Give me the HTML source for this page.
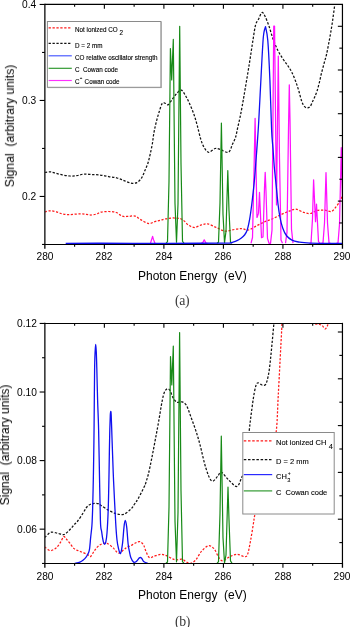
<!DOCTYPE html><html><head><meta charset="utf-8"><style>
*{margin:0;padding:0}
html,body{width:350px;height:627px;background:#fff;overflow:hidden}
body{position:relative;font-family:"Liberation Sans",sans-serif;color:#000}
.t{position:absolute;white-space:nowrap;line-height:1;will-change:transform}
.tk{font-size:10.2px}
.ttl{font-size:12px}
.la{font-size:6.3px;-webkit-text-stroke:0.12px #000}
.lb{font-size:7.5px;-webkit-text-stroke:0.1px #000}
.cap{font-family:"Liberation Serif",serif;font-size:13.8px;color:#3a3a3a;letter-spacing:-0.35px}
</style></head><body><svg width="350" height="627" viewBox="0 0 350 627" style="position:absolute;left:0;top:0"><defs><clipPath id="ca"><rect x="44.6" y="4" width="297.4" height="240"/></clipPath><clipPath id="cb"><rect x="44.6" y="323.8" width="297.4" height="240.1"/></clipPath></defs><g clip-path="url(#ca)" fill="none" stroke-linejoin="round"><path d="M44.8 211.8 C45.72 211.63 48.38 210.8 50.3 210.8 C52.22 210.8 54.3 211.28 56.3 211.8 C58.3 212.32 60.3 213.42 62.3 213.9 C64.3 214.38 66.3 214.65 68.3 214.7 C70.3 214.75 72.17 214.33 74.3 214.2 C76.43 214.07 79.1 213.87 81.1 213.9 C83.1 213.93 84.58 214.22 86.3 214.4 C88.02 214.58 89.68 215.07 91.4 215 C93.12 214.93 95.02 214.48 96.6 214 C98.18 213.52 98.9 212.52 100.9 212.1 C102.9 211.68 106.03 211.43 108.6 211.5 C111.17 211.57 114.02 211.72 116.3 212.5 C118.58 213.28 120.3 215.55 122.3 216.2 C124.3 216.85 126.17 216.42 128.3 216.4 C130.43 216.38 132.97 215.52 135.1 216.1 C137.23 216.68 138.8 218.65 141.1 219.9 C143.4 221.15 146.6 223.32 148.9 223.6 C151.2 223.88 153.05 222.13 154.9 221.6 C156.75 221.07 158.25 220.85 160 220.4 C161.75 219.95 163.35 219.3 165.4 218.9 C167.45 218.5 169.87 218.05 172.3 218 C174.73 217.95 178 218.08 180 218.6 C182 219.12 182.87 220 184.3 221.1 C185.73 222.2 186.88 224.13 188.6 225.2 C190.32 226.27 192.47 227.55 194.6 227.5 C196.73 227.45 199.18 225.5 201.4 224.9 C203.62 224.3 205.35 223.43 207.9 223.9 C210.45 224.37 213.78 226.48 216.7 227.7 C219.62 228.92 222.48 230.9 225.4 231.2 C228.32 231.5 231.42 229.93 234.2 229.5 C236.98 229.07 239.75 228.52 242.1 228.6 C244.45 228.68 245.88 230.47 248.3 230 C250.72 229.53 253.83 227.18 256.6 225.8 C259.37 224.42 262.13 222.92 264.9 221.7 C267.67 220.48 270.43 219.72 273.2 218.5 C275.97 217.28 278.73 215.67 281.5 214.4 C284.27 213.13 287.38 211.77 289.8 210.9 C292.22 210.03 293.68 208.95 296 209.2 C298.32 209.45 301.3 211.68 303.7 212.4 C306.1 213.12 308.17 213.82 310.4 213.5 C312.63 213.18 314.72 211.07 317.1 210.5 C319.48 209.93 322.32 209.95 324.7 210.1 C327.08 210.25 329.48 211.98 331.4 211.4 C333.32 210.82 334.75 208.35 336.2 206.6 C337.65 204.85 339.13 202.58 340.1 200.9 C341.07 199.22 341.68 197.23 342 196.5" stroke="#ff1a1a" stroke-width="1.25" stroke-dasharray="2.2 1.6"/><path d="M44.8 172.5 C45.72 172.4 48.53 171.8 50.3 171.9 C52.07 172 53.4 172.6 55.4 173.1 C57.4 173.6 59.87 174.42 62.3 174.9 C64.73 175.38 67.57 175.88 70 176 C72.43 176.12 74.62 175.92 76.9 175.6 C79.18 175.28 81.28 174.28 83.7 174.1 C86.12 173.92 88.68 174.35 91.4 174.5 C94.12 174.65 97.13 174.65 100 175 C102.87 175.35 105.75 176.1 108.6 176.6 C111.45 177.1 114.53 177.33 117.1 178 C119.67 178.67 121.7 179.75 124 180.6 C126.3 181.45 128.75 182.77 130.9 183.1 C133.05 183.43 135.08 183.52 136.9 182.6 C138.72 181.68 140.48 179.57 141.8 177.6 C143.12 175.63 143.78 173.2 144.8 170.8 C145.82 168.4 147 165.98 147.9 163.2 C148.8 160.42 149.45 157.38 150.2 154.1 C150.95 150.82 151.78 147.03 152.4 143.5 C153.02 139.97 153.27 136.43 153.9 132.9 C154.53 129.37 155.32 125.83 156.2 122.3 C157.08 118.77 158.18 114.87 159.2 111.7 C160.22 108.53 161.28 104.7 162.3 103.3 C163.32 101.9 164.3 103.08 165.3 103.3 C166.3 103.52 167.13 105.28 168.3 104.6 C169.47 103.92 170.9 101.03 172.3 99.2 C173.7 97.37 175.2 95.1 176.7 93.6 C178.2 92.1 179.8 89.8 181.3 90.2 C182.8 90.6 184.33 93.78 185.7 96 C187.07 98.22 188.13 100.45 189.5 103.5 C190.87 106.55 192.6 110.6 193.9 114.3 C195.2 118 196.17 121.58 197.3 125.7 C198.43 129.82 199.57 135.38 200.7 139 C201.83 142.62 202.77 145.18 204.1 147.4 C205.43 149.62 206.87 152.12 208.7 152.3 C210.53 152.48 213.18 148.97 215.1 148.5 C217.02 148.03 217.97 148.87 220.2 149.5 C222.43 150.13 226.48 153.12 228.5 152.3 C230.52 151.48 231.13 147.07 232.3 144.6 C233.47 142.13 234.62 140.25 235.5 137.5 C236.38 134.75 236.85 131.43 237.6 128.1 C238.35 124.77 239.28 120.9 240 117.5 C240.72 114.1 241.23 111.33 241.9 107.7 C242.57 104.07 242.82 102.68 244 95.7 C245.18 88.72 247.5 75.1 249 65.8 C250.5 56.5 251.9 46.72 253 39.9 C254.1 33.08 254.62 28.47 255.6 24.9 C256.58 21.33 257.85 20.57 258.9 18.5 C259.95 16.43 260.9 12.92 261.9 12.5 C262.9 12.08 263.73 13.77 264.9 16 C266.07 18.23 267.57 22.15 268.9 25.9 C270.23 29.65 271.4 34.4 272.9 38.5 C274.4 42.6 276.23 47.12 277.9 50.5 C279.57 53.88 281.25 56.27 282.9 58.8 C284.55 61.33 286.33 63.48 287.8 65.7 C289.27 67.92 290.42 69.55 291.7 72.1 C292.98 74.65 294.33 77.93 295.5 81 C296.67 84.07 297.65 87.08 298.7 90.5 C299.75 93.92 300.85 98.87 301.8 101.5 C302.75 104.13 303.47 105.22 304.4 106.3 C305.33 107.38 306.42 108 307.4 108 C308.38 108 309.43 107.38 310.3 106.3 C311.17 105.22 311.83 103.12 312.6 101.5 C313.37 99.88 314.15 98.37 314.9 96.6 C315.65 94.83 316.35 93.28 317.1 90.9 C317.85 88.52 318.68 85.2 319.4 82.3 C320.12 79.4 320.62 76.67 321.4 73.5 C322.18 70.33 323.27 66.38 324.1 63.3 C324.93 60.22 325.67 58.12 326.4 55 C327.13 51.88 327.8 48.23 328.5 44.6 C329.2 40.97 329.92 37.18 330.6 33.2 C331.28 29.22 331.95 25.12 332.6 20.7 C333.25 16.28 334.1 9.38 334.5 6.7 C334.9 4.02 334.92 4.95 335 4.6" stroke="#111" stroke-width="1.25" stroke-dasharray="2.4 1.6"/><path d="M166 243.35 L167.5 241.61 L169 181.43 L170.4 48.55 L171.7 79.95 L173.3 39.45 L175 203.48 L176.5 242.16 L178 203.99 L179.7 26.35 L181 163.39 L182.5 241.24 L184 243.35 M217 243.35 L218.5 242.21 L220 202.74 L221.4 123.05 L223 214.22 L224.5 242.59 L226 231.26 L227.8 170.55 L229 210.57 L230.5 242.07 L232 243.35 " stroke="#178a17" stroke-width="1.2"/><path d="M150.5 243.13 L152.6 236.35 L153.5 239.63 L155 243.27 M201.5 243.34 L203 242.21 L204.2 239.85 L206 243.07 L207.5 243.35 M251 243.29 L252.5 237.52 L254 171.14 L255.1 118.35 L257 217.44 L258.5 213.39 L259.5 192.35 L261.5 237.72 L263 236.98 L264.5 187.78 L265.2 172.35 L266 191.79 L267.5 238.31 L269 243.3 L270.5 243.31 L272 230.14 L273.75 26.05 L274.55 26.05 L276.5 204.94 L278.3 56.05 L279.5 159.01 L281 240.05 L282.5 243.34 M285.5 243.23 L287 232.1 L288.5 128.26 L289.3 84.85 L290 119.29 L291.5 229.26 L293 243.18 M309.5 243.35 L311 243.03 L312.5 218.7 L313.6 179.85 L315.5 221.66 L316.5 204.15 L318.5 241.63 L320 243.35 L321.5 243.35 L323 242.87 L324.5 223 L326 172.55 L327.5 223 L329 242.87 L330.5 243.35 M336.5 243.35 L338 242.94 L339.5 224.39 L341.3 147.55 L342.5 196.72 " stroke="#ff10ff" stroke-width="1.25"/><path d="M65.7 243.3 C71.42 243.29 85.95 243.25 100 243.25 C114.05 243.25 133.33 243.3 150 243.3 C166.67 243.3 187.5 243.28 200 243.25 C212.5 243.22 220 243.14 225 243.1 C230 243.06 228.67 243.15 230 243 C231.33 242.85 231.83 242.6 233 242.2 C234.17 241.8 235.67 241.27 237 240.6 C238.33 239.93 239.75 239.13 241 238.2 C242.25 237.27 243.47 236.37 244.5 235 C245.53 233.63 246.33 232.68 247.2 230 C248.07 227.32 248.95 223.1 249.7 218.9 C250.45 214.7 251.12 209.27 251.7 204.8 C252.28 200.33 252.73 196.35 253.2 192.1 C253.67 187.85 254.12 183.55 254.5 179.3 C254.88 175.05 255.12 171.48 255.5 166.6 C255.88 161.72 256.27 157.43 256.8 150 C257.33 142.57 258.02 133.72 258.7 122 C259.38 110.28 260.13 93.78 260.9 79.7 C261.67 65.62 262.53 46.35 263.3 37.5 C264.07 28.65 265.13 28.42 265.5 26.6 C265.88 28.92 267.07 31.6 267.8 40.5 C268.53 49.4 269.27 65.08 269.9 80 C270.53 94.92 271.08 118.58 271.6 130 C272.12 141.42 272.55 142.33 273 148.5 C273.45 154.67 273.77 160.83 274.3 167 C274.83 173.17 275.58 179.33 276.2 185.5 C276.82 191.67 277.38 198.75 278 204 C278.62 209.25 279.12 213 279.9 217 C280.68 221 281.62 224.92 282.7 228 C283.78 231.08 284.87 233.48 286.4 235.5 C287.93 237.52 289.9 239.02 291.9 240.1 C293.9 241.18 295.38 241.5 298.4 242 C301.42 242.5 302.73 242.88 310 243.1 C317.27 243.32 336.67 243.27 342 243.3" stroke="#1010f0" stroke-width="1.3"/></g><g clip-path="url(#cb)" fill="none" stroke-linejoin="round"><path d="M44.8 546.9 C45.28 547.32 46.65 548.78 47.7 549.4 C48.75 550.02 49.67 550.88 51.1 550.6 C52.53 550.32 54.72 549.1 56.3 547.7 C57.88 546.3 59.38 544.05 60.6 542.2 C61.82 540.35 62.7 537.2 63.6 536.6 C64.5 536 65 537.55 66 538.6 C67 539.65 68.25 541.23 69.6 542.9 C70.95 544.57 72.58 547.27 74.1 548.6 C75.62 549.93 77.17 550.23 78.7 550.9 C80.23 551.57 81.77 551.93 83.3 552.6 C84.83 553.27 86.67 554.27 87.9 554.9 C89.13 555.53 89.75 556.88 90.7 556.4 C91.65 555.92 92.55 553.5 93.6 552 C94.65 550.5 95.67 548.73 97 547.4 C98.33 546.07 99.93 544.68 101.6 544 C103.27 543.32 105.07 542.65 107 543.3 C108.93 543.95 111.3 546.27 113.2 547.9 C115.1 549.53 116.67 552.75 118.4 553.1 C120.13 553.45 122.27 550.92 123.6 550 C124.93 549.08 125.22 548.32 126.4 547.6 C127.58 546.88 129.1 546.52 130.7 545.7 C132.3 544.88 134.45 543.37 136 542.7 C137.55 542.03 138.73 541.32 140 541.7 C141.27 542.08 142.65 543.5 143.6 545 C144.55 546.5 144.75 548.6 145.7 550.7 C146.65 552.8 147.98 556.65 149.3 557.6 C150.62 558.55 151.7 556.95 153.6 556.4 C155.5 555.85 158.57 554.42 160.7 554.3 C162.83 554.18 164.5 554.98 166.4 555.7 C168.3 556.42 170.52 557.88 172.1 558.6 C173.68 559.32 174.27 559.9 175.9 560 C177.53 560.1 180.27 558.97 181.9 559.2 C183.53 559.43 184.35 560.7 185.7 561.4 C187.05 562.1 188.33 563.63 190 563.4 C191.67 563.17 193.8 562 195.7 560 C197.6 558 199.25 553.78 201.4 551.4 C203.55 549.02 206.45 546.08 208.6 545.7 C210.75 545.32 212.63 547.2 214.3 549.1 C215.97 551 217.17 555.13 218.6 557.1 C220.03 559.07 221 560.98 222.9 560.9 C224.8 560.82 227.63 557.7 230 556.6 C232.37 555.5 234.72 554.3 237.1 554.3 C239.48 554.3 242.57 556.57 244.3 556.6 C246.03 556.63 246.47 557.1 247.5 554.5 C248.53 551.9 249.5 546.25 250.5 541 C251.5 535.75 252.75 527.5 253.5 523 C254.25 518.5 253.92 518.83 255 514 C256.08 509.17 258.17 501.33 260 494 C261.83 486.67 264 477.67 266 470 C268 462.33 270.28 454.52 272 448 C273.72 441.48 275.27 439.48 276.3 430.9 C277.33 422.32 277.55 408.62 278.2 396.5 C278.85 384.38 279.62 369.35 280.2 358.2 C280.78 347.05 281.35 336.3 281.7 329.6 C282.05 322.9 282.2 319.93 282.3 318" stroke="#ff1a1a" stroke-width="1.25" stroke-dasharray="2.2 1.6"/><path d="M311 318 C311.43 318.9 312.32 322.35 313.6 323.4 C314.88 324.45 317.28 323.97 318.7 324.3 C320.12 324.63 321.05 324.63 322.1 325.4 C323.15 326.17 324.23 328.62 325 328.9 C325.77 329.18 326.22 327.87 326.7 327.1 C327.18 326.33 327.52 325.82 327.9 324.3 C328.28 322.78 328.82 319.05 329 318" stroke="#ff1a1a" stroke-width="1.25" stroke-dasharray="2.2 1.6"/><path d="M44.8 537.5 C45.28 537 46.6 535.38 47.7 534.5 C48.8 533.62 49.83 532.43 51.4 532.2 C52.97 531.97 55.18 532.7 57.1 533.1 C59.02 533.5 61.5 534.48 62.9 534.6 C64.3 534.72 64.55 534.42 65.5 533.8 C66.45 533.18 67.6 531.9 68.6 530.9 C69.6 529.9 70.55 528.85 71.5 527.8 C72.45 526.75 73.27 525.73 74.3 524.6 C75.33 523.47 76.27 522.87 77.7 521 C79.13 519.13 81.43 515.65 82.9 513.4 C84.37 511.15 85.32 508.98 86.5 507.5 C87.68 506.02 88.67 505.2 90 504.5 C91.33 503.8 93.12 503.43 94.5 503.3 C95.88 503.17 97.27 503.38 98.3 503.7 C99.33 504.02 98.92 504.07 100.7 505.2 C102.48 506.33 106.4 509.08 109 510.5 C111.6 511.92 113.87 513.07 116.3 513.7 C118.73 514.33 121.2 515.03 123.6 514.3 C126 513.57 128.87 511.02 130.7 509.3 C132.53 507.58 133.3 505.87 134.6 504 C135.9 502.13 136.73 501.3 138.5 498.1 C140.27 494.9 144.08 487.02 145.2 484.8 C145.75 482.93 147.4 478.07 148.5 473.6 C149.6 469.13 150.68 463.57 151.8 458 C152.92 452.43 154.08 446.13 155.2 440.2 C156.32 434.27 157.38 428.72 158.5 422.4 C159.62 416.08 160.93 407.28 161.9 402.3 C162.87 397.32 163.42 394.75 164.3 392.5 C165.18 390.25 166.23 389.1 167.2 388.8 C168.17 388.5 169.15 389.27 170.1 390.7 C171.05 392.13 171.78 395.48 172.9 397.4 C174.02 399.32 175.37 401.47 176.8 402.2 C178.23 402.93 179.92 401.32 181.5 401.8 C183.08 402.28 184.7 402.48 186.3 405.1 C187.9 407.72 189.5 413.2 191.1 417.5 C192.7 421.8 194.45 426.5 195.9 430.9 C197.35 435.3 198.15 437.75 199.8 443.9 C201.45 450.05 203.82 461.62 205.8 467.8 C207.78 473.98 209.72 479.6 211.7 481 C213.68 482.4 216.1 477.67 217.7 476.2 C219.3 474.73 219.5 471.6 221.3 472.2 C223.1 472.8 225.9 477.42 228.5 479.8 C231.1 482.18 234.7 486.9 236.9 486.5 C239.1 486.1 240.35 480.12 241.7 477.4 C243.05 474.68 244.12 473.93 245 470.2 C245.88 466.47 246.3 461.55 247 455 C247.7 448.45 248.45 438.1 249.2 430.9 C249.95 423.7 250.65 418.17 251.5 411.8 C252.35 405.43 253.35 397.48 254.3 392.7 C255.25 387.92 255.92 384.38 257.2 383.1 C258.48 381.82 260.57 384.83 262 385 C263.43 385.17 264.68 386.02 265.8 384.1 C266.92 382.18 267.9 377.82 268.7 373.5 C269.5 369.18 270.03 363.28 270.6 358.2 C271.17 353.12 271.62 348.1 272.1 343 C272.58 337.9 273.15 331.35 273.5 327.6 C273.85 323.85 274.08 321.68 274.2 320.5" stroke="#111" stroke-width="1.25" stroke-dasharray="2.4 1.6"/><path d="M74.7 563.4 C75.57 563.18 78.47 562.67 79.9 562.1 C81.33 561.53 82.27 560.83 83.3 560 C84.33 559.17 85.25 558.25 86.1 557.1 C86.95 555.95 87.82 554.52 88.4 553.1 C88.98 551.68 89.22 551.27 89.6 548.6 C89.98 545.93 90.32 540.92 90.7 537.1 C91.08 533.28 91.58 530.22 91.9 525.7 C92.22 521.18 92.37 517.62 92.6 510 C92.83 502.38 93.1 490 93.3 480 C93.5 470 93.67 459.17 93.8 450 C93.93 440.83 93.97 438.33 94.1 425 C94.23 411.67 94.43 382.17 94.6 370 C94.77 357.83 94.92 356.28 95.1 352 C95.28 347.72 95.5 344.3 95.7 344.3 C95.9 344.3 96.12 348.05 96.3 352 C96.48 355.95 96.58 360 96.8 368 C97.02 376 97.32 390.4 97.6 400 C97.88 409.6 98.23 415.6 98.5 425.6 C98.77 435.6 98.88 444.27 99.2 460 C99.52 475.73 100 508.1 100.4 520 C100.8 531.9 101.12 527.78 101.6 531.4 C102.08 535.02 102.8 539.55 103.3 541.7 C103.8 543.85 104.18 544.25 104.6 544.3 C105.02 544.35 105.4 543.88 105.8 542 C106.2 540.12 106.6 538.33 107 533 C107.4 527.67 107.88 518.83 108.2 510 C108.52 501.17 108.7 490 108.9 480 C109.1 470 109.25 458.33 109.4 450 C109.55 441.67 109.65 435.83 109.8 430 C109.95 424.17 110.15 418.12 110.3 415 C110.45 411.88 110.55 411.3 110.7 411.3 C110.85 411.3 111 411.05 111.2 415 C111.4 418.95 111.67 428.33 111.9 435 C112.13 441.67 112.32 447.25 112.6 455 C112.88 462.75 113.08 470.17 113.6 481.5 C114.12 492.83 115.13 513.25 115.7 523 C116.27 532.75 116.55 535.83 117 540 C117.45 544.17 117.82 545.75 118.4 548 C118.98 550.25 119.82 554.22 120.5 553.5 C121.18 552.78 121.92 548.1 122.5 543.7 C123.08 539.3 123.55 530.97 124 527.1 C124.45 523.23 124.75 520.5 125.2 520.5 C125.65 520.5 126.22 523.23 126.7 527.1 C127.18 530.97 127.67 539.72 128.1 543.7 C128.53 547.68 128.85 548.7 129.3 551 C129.75 553.3 130.08 555.65 130.8 557.5 C131.52 559.35 132.67 561.45 133.6 562.1 C134.53 562.75 135.45 562.1 136.4 561.4 C137.35 560.7 138.47 558.48 139.3 557.9 C140.13 557.32 140.68 557.32 141.4 557.9 C142.12 558.48 142.52 560.48 143.6 561.4 C144.68 562.32 147.18 563.07 147.9 563.4" stroke="#1010f0" stroke-width="1.3"/><path d="M166 563.3 L167.5 561.97 L169 507.29 L170.5 356.6 L171.8 384.9 L173.3 346 L175 521.12 L176.5 561.79 L178 512.43 L179.6 332.5 L181 490.79 L182.5 561.69 L184 563.3 M217 563.3 L218.5 561.65 L220 513.47 L221.3 436.2 L223 537.67 L224.5 562.78 L226 554.99 L228 487.1 L229 519.51 L230.5 560.91 L232 563.29 " stroke="#178a17" stroke-width="1.2"/></g><line x1="44.85" y1="3.85" x2="44.85" y2="245.05" stroke="#2a2a2a" stroke-width="1.5"/><line x1="342.45" y1="3.85" x2="342.45" y2="245.05" stroke="#000" stroke-width="1.2"/><line x1="44.85" y1="4.45" x2="342.45" y2="4.45" stroke="#000" stroke-width="1.15"/><line x1="44.85" y1="244.45" x2="342.45" y2="244.45" stroke="#000" stroke-width="1.15"/><line x1="44.85" y1="244.45" x2="44.85" y2="248.75" stroke="#000" stroke-width="1.3"/><line x1="74.61" y1="244.45" x2="74.61" y2="246.75" stroke="#000" stroke-width="1.1"/><line x1="74.61" y1="4.45" x2="74.61" y2="6.75" stroke="#000" stroke-width="1.1"/><line x1="104.37" y1="244.45" x2="104.37" y2="248.75" stroke="#000" stroke-width="1.1"/><line x1="104.37" y1="4.45" x2="104.37" y2="8.75" stroke="#000" stroke-width="1.1"/><line x1="134.13" y1="244.45" x2="134.13" y2="246.75" stroke="#000" stroke-width="1.1"/><line x1="134.13" y1="4.45" x2="134.13" y2="6.75" stroke="#000" stroke-width="1.1"/><line x1="163.89" y1="244.45" x2="163.89" y2="248.75" stroke="#000" stroke-width="1.1"/><line x1="163.89" y1="4.45" x2="163.89" y2="8.75" stroke="#000" stroke-width="1.1"/><line x1="193.65" y1="244.45" x2="193.65" y2="246.75" stroke="#000" stroke-width="1.1"/><line x1="193.65" y1="4.45" x2="193.65" y2="6.75" stroke="#000" stroke-width="1.1"/><line x1="223.41" y1="244.45" x2="223.41" y2="248.75" stroke="#000" stroke-width="1.1"/><line x1="223.41" y1="4.45" x2="223.41" y2="8.75" stroke="#000" stroke-width="1.1"/><line x1="253.17" y1="244.45" x2="253.17" y2="246.75" stroke="#000" stroke-width="1.1"/><line x1="253.17" y1="4.45" x2="253.17" y2="6.75" stroke="#000" stroke-width="1.1"/><line x1="282.93" y1="244.45" x2="282.93" y2="248.75" stroke="#000" stroke-width="1.1"/><line x1="282.93" y1="4.45" x2="282.93" y2="8.75" stroke="#000" stroke-width="1.1"/><line x1="312.69" y1="244.45" x2="312.69" y2="246.75" stroke="#000" stroke-width="1.1"/><line x1="312.69" y1="4.45" x2="312.69" y2="6.75" stroke="#000" stroke-width="1.1"/><line x1="342.45" y1="244.45" x2="342.45" y2="248.75" stroke="#000" stroke-width="1.3"/><line x1="39.65" y1="4.45" x2="44.85" y2="4.45" stroke="#000" stroke-width="1.1"/><line x1="39.65" y1="100.45" x2="44.85" y2="100.45" stroke="#000" stroke-width="1.1"/><line x1="39.65" y1="196.45" x2="44.85" y2="196.45" stroke="#000" stroke-width="1.1"/><line x1="42.05" y1="52.45" x2="44.85" y2="52.45" stroke="#000" stroke-width="1.1"/><line x1="42.05" y1="148.45" x2="44.85" y2="148.45" stroke="#000" stroke-width="1.1"/><line x1="42.05" y1="244.45" x2="44.85" y2="244.45" stroke="#000" stroke-width="1.1"/><line x1="337.85" y1="26.3" x2="342.45" y2="26.3" stroke="#000" stroke-width="1.1"/><line x1="337.85" y1="70" x2="342.45" y2="70" stroke="#000" stroke-width="1.1"/><line x1="337.85" y1="113.7" x2="342.45" y2="113.7" stroke="#000" stroke-width="1.1"/><line x1="337.85" y1="157.4" x2="342.45" y2="157.4" stroke="#000" stroke-width="1.1"/><line x1="337.85" y1="201.1" x2="342.45" y2="201.1" stroke="#000" stroke-width="1.1"/><line x1="339.35" y1="48.15" x2="342.45" y2="48.15" stroke="#000" stroke-width="1.1"/><line x1="339.35" y1="91.85" x2="342.45" y2="91.85" stroke="#000" stroke-width="1.1"/><line x1="339.35" y1="135.55" x2="342.45" y2="135.55" stroke="#000" stroke-width="1.1"/><line x1="339.35" y1="179.25" x2="342.45" y2="179.25" stroke="#000" stroke-width="1.1"/><line x1="339.35" y1="222.95" x2="342.45" y2="222.95" stroke="#000" stroke-width="1.1"/><line x1="44.85" y1="322.85" x2="44.85" y2="564.05" stroke="#2a2a2a" stroke-width="1.5"/><line x1="342.45" y1="322.85" x2="342.45" y2="564.05" stroke="#000" stroke-width="1.2"/><line x1="44.85" y1="323.45" x2="342.45" y2="323.45" stroke="#000" stroke-width="1.15"/><line x1="44.85" y1="563.45" x2="342.45" y2="563.45" stroke="#000" stroke-width="1.15"/><line x1="44.85" y1="563.45" x2="44.85" y2="567.75" stroke="#000" stroke-width="1.3"/><line x1="74.61" y1="563.45" x2="74.61" y2="565.75" stroke="#000" stroke-width="1.1"/><line x1="74.61" y1="323.45" x2="74.61" y2="325.75" stroke="#000" stroke-width="1.1"/><line x1="104.37" y1="563.45" x2="104.37" y2="567.75" stroke="#000" stroke-width="1.1"/><line x1="104.37" y1="323.45" x2="104.37" y2="327.75" stroke="#000" stroke-width="1.1"/><line x1="134.13" y1="563.45" x2="134.13" y2="565.75" stroke="#000" stroke-width="1.1"/><line x1="134.13" y1="323.45" x2="134.13" y2="325.75" stroke="#000" stroke-width="1.1"/><line x1="163.89" y1="563.45" x2="163.89" y2="567.75" stroke="#000" stroke-width="1.1"/><line x1="163.89" y1="323.45" x2="163.89" y2="327.75" stroke="#000" stroke-width="1.1"/><line x1="193.65" y1="563.45" x2="193.65" y2="565.75" stroke="#000" stroke-width="1.1"/><line x1="193.65" y1="323.45" x2="193.65" y2="325.75" stroke="#000" stroke-width="1.1"/><line x1="223.41" y1="563.45" x2="223.41" y2="567.75" stroke="#000" stroke-width="1.1"/><line x1="223.41" y1="323.45" x2="223.41" y2="327.75" stroke="#000" stroke-width="1.1"/><line x1="253.17" y1="563.45" x2="253.17" y2="565.75" stroke="#000" stroke-width="1.1"/><line x1="253.17" y1="323.45" x2="253.17" y2="325.75" stroke="#000" stroke-width="1.1"/><line x1="282.93" y1="563.45" x2="282.93" y2="567.75" stroke="#000" stroke-width="1.1"/><line x1="282.93" y1="323.45" x2="282.93" y2="327.75" stroke="#000" stroke-width="1.1"/><line x1="312.69" y1="563.45" x2="312.69" y2="565.75" stroke="#000" stroke-width="1.1"/><line x1="312.69" y1="323.45" x2="312.69" y2="325.75" stroke="#000" stroke-width="1.1"/><line x1="342.45" y1="563.45" x2="342.45" y2="567.75" stroke="#000" stroke-width="1.3"/><line x1="39.65" y1="323.45" x2="44.85" y2="323.45" stroke="#000" stroke-width="1.1"/><line x1="39.65" y1="392.02" x2="44.85" y2="392.02" stroke="#000" stroke-width="1.1"/><line x1="39.65" y1="460.59" x2="44.85" y2="460.59" stroke="#000" stroke-width="1.1"/><line x1="39.65" y1="529.16" x2="44.85" y2="529.16" stroke="#000" stroke-width="1.1"/><line x1="42.05" y1="357.74" x2="44.85" y2="357.74" stroke="#000" stroke-width="1.1"/><line x1="42.05" y1="426.31" x2="44.85" y2="426.31" stroke="#000" stroke-width="1.1"/><line x1="42.05" y1="494.88" x2="44.85" y2="494.88" stroke="#000" stroke-width="1.1"/><line x1="42.05" y1="563.45" x2="44.85" y2="563.45" stroke="#000" stroke-width="1.1"/><line x1="337.85" y1="332" x2="342.45" y2="332" stroke="#000" stroke-width="1.1"/><line x1="337.85" y1="378.8" x2="342.45" y2="378.8" stroke="#000" stroke-width="1.1"/><line x1="337.85" y1="425.6" x2="342.45" y2="425.6" stroke="#000" stroke-width="1.1"/><line x1="337.85" y1="472.4" x2="342.45" y2="472.4" stroke="#000" stroke-width="1.1"/><line x1="337.85" y1="519.2" x2="342.45" y2="519.2" stroke="#000" stroke-width="1.1"/><line x1="339.35" y1="355.4" x2="342.45" y2="355.4" stroke="#000" stroke-width="1.1"/><line x1="339.35" y1="402.2" x2="342.45" y2="402.2" stroke="#000" stroke-width="1.1"/><line x1="339.35" y1="449" x2="342.45" y2="449" stroke="#000" stroke-width="1.1"/><line x1="339.35" y1="495.8" x2="342.45" y2="495.8" stroke="#000" stroke-width="1.1"/><line x1="339.35" y1="542.6" x2="342.45" y2="542.6" stroke="#000" stroke-width="1.1"/><rect x="47.4" y="21.5" width="113.6" height="65.8" fill="#fff" stroke="#8a8a8a" stroke-width="1"/><line x1="161.2" y1="22" x2="161.2" y2="87.8" stroke="#999" stroke-width="0.8"/><line x1="47.8" y1="87.6" x2="161.5" y2="87.6" stroke="#999" stroke-width="0.8"/><line x1="48.6" y1="27.9" x2="71.6" y2="27.9" stroke="#ff1a1a" stroke-width="1.3" stroke-dasharray="2.3 1.6"/><line x1="48.6" y1="43.3" x2="71.6" y2="43.3" stroke="#111" stroke-width="1.3" stroke-dasharray="2.3 1.6"/><line x1="48.6" y1="55.8" x2="71.8" y2="55.8" stroke="#4455ff" stroke-width="1.15"/><line x1="48.6" y1="68.3" x2="71.8" y2="68.3" stroke="#2a962a" stroke-width="1.15"/><line x1="48.6" y1="80.5" x2="71.8" y2="80.5" stroke="#ff30ff" stroke-width="1.15"/><rect x="242.8" y="432.5" width="91.4" height="81.5" fill="#fff" stroke="#8a8a8a" stroke-width="1"/><line x1="243.8" y1="440.9" x2="272.2" y2="440.9" stroke="#ff1a1a" stroke-width="1.3" stroke-dasharray="2.5 1.7"/><line x1="243.8" y1="459.7" x2="272.2" y2="459.7" stroke="#111" stroke-width="1.3" stroke-dasharray="2.5 1.7"/><line x1="243.8" y1="474.6" x2="272.2" y2="474.6" stroke="#2a2aff" stroke-width="1.2"/><line x1="243.8" y1="490.9" x2="272.2" y2="490.9" stroke="#2a962a" stroke-width="1.15"/></svg><div class="t tk" style="right:313.6px;top:0.05px">0.4</div><div class="t tk" style="right:313.6px;top:96.05px">0.3</div><div class="t tk" style="right:313.6px;top:192.05px">0.2</div><div class="t tk" style="right:313.6px;top:319.05px">0.12</div><div class="t tk" style="right:313.6px;top:387.62px">0.10</div><div class="t tk" style="right:313.6px;top:456.19px">0.08</div><div class="t tk" style="right:313.6px;top:524.76px">0.06</div><div class="t tk" style="left:44.85px;top:252.3px;width:40px;margin-left:-20px;text-align:center">280</div><div class="t tk" style="left:44.85px;top:572.2px;width:40px;margin-left:-20px;text-align:center">280</div><div class="t tk" style="left:104.37px;top:252.3px;width:40px;margin-left:-20px;text-align:center">282</div><div class="t tk" style="left:104.37px;top:572.2px;width:40px;margin-left:-20px;text-align:center">282</div><div class="t tk" style="left:163.89px;top:252.3px;width:40px;margin-left:-20px;text-align:center">284</div><div class="t tk" style="left:163.89px;top:572.2px;width:40px;margin-left:-20px;text-align:center">284</div><div class="t tk" style="left:223.41px;top:252.3px;width:40px;margin-left:-20px;text-align:center">286</div><div class="t tk" style="left:223.41px;top:572.2px;width:40px;margin-left:-20px;text-align:center">286</div><div class="t tk" style="left:282.93px;top:252.3px;width:40px;margin-left:-20px;text-align:center">288</div><div class="t tk" style="left:282.93px;top:572.2px;width:40px;margin-left:-20px;text-align:center">288</div><div class="t tk" style="left:342.45px;top:252.3px;width:40px;margin-left:-20px;text-align:center">290</div><div class="t tk" style="left:342.45px;top:572.2px;width:40px;margin-left:-20px;text-align:center">290</div><div class="t ttl" style="left:138.3px;top:270.2px">Photon Energy&nbsp; (eV)</div><div class="t ttl" style="left:138.3px;top:589.3px">Photon Energy&nbsp; (eV)</div><div class="t ttl" style="left:10.3px;top:125.5px;font-size:12.2px;transform:translate(-50%,-50%) rotate(-90deg)">Signal&nbsp; (arbitrary units)</div><div class="t ttl" style="left:5.1px;top:444.8px;transform:translate(-50%,-50%) rotate(-90deg)">Signal&nbsp; (arbitrary units)</div><div class="t cap" style="left:174.9px;top:294.4px">(a)</div><div class="t cap" style="left:174.5px;top:615.3px">(b)</div><div class="t la" style="left:74.6px;top:26.9px">Not ionized CO<span style="position:relative;top:3.4px;margin-left:1.9px">2</span></div><div class="t la" style="left:74.6px;top:42.9px">D = 2 mm</div><div class="t la" style="left:74.6px;top:54.9px">CO relative oscillator strength</div><div class="t la" style="left:74.6px;top:67.2px">C&nbsp; Cowan code</div><div class="t la" style="left:74.6px;top:79.2px">C<span style="position:relative;top:-2.6px;font-size:4.4px;margin-left:0.3px;margin-right:0.4px;vertical-align:top;line-height:1">+</span> Cowan code</div><div class="t lb" style="left:275.6px;top:439px">Not ionized CH<span style="position:relative;top:4.2px;margin-left:2.2px">4</span></div><div class="t lb" style="left:275.6px;top:457.9px">D = 2 mm</div><div class="t lb" style="left:275.6px;top:472.8px">CH<span style="position:relative;display:inline-block;width:5px;height:5px"><span style="position:absolute;left:0.4px;top:3.6px;font-size:5.6px">3</span><span style="position:absolute;left:0.9px;top:-2.8px;font-size:5px">+</span></span></div><div class="t lb" style="left:275.6px;top:489px">C&nbsp; Cowan code</div></body></html>
